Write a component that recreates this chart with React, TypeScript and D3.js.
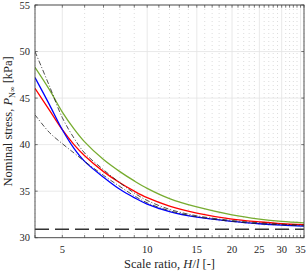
import * as d3 from 'd3'

// scale ratio H/l sample points
const ratio = [4, 4.5, 5, 5.5, 6, 7, 8, 9, 10, 12, 15, 20, 25, 30, 36]

// nominal stress series [kPa]
const greenVals = [48.3, 45.9, 43.5, 41.7, 40.3, 38.4, 37.1, 36.1, 35.3, 34.2, 33.3, 32.45, 32.0, 31.75, 31.6]
const redVals = [46.05, 43.7, 41.6, 40.0, 38.8, 37.1, 35.9, 35.0, 34.3, 33.4, 32.65, 32.0, 31.7, 31.5, 31.4]
const blueVals = [47.2, 44.3, 41.6, 39.6, 38.2, 36.5, 35.2, 34.3, 33.6, 32.8, 32.2, 31.75, 31.5, 31.35, 31.25]
const dashDotUpper = [50.0, 46.3, 42.9, 40.7, 39.1, 37.3, 35.9, 34.8, 34.0, 33.05, 32.35, 31.85, 31.6, 31.45, 31.35]
const dashDotLower = [43.2, 41.3, 40.1, 39.1, 38.2, 36.7, 35.5, 34.5, 33.75, 32.9, 32.25, 31.75, 31.5, 31.38, 31.28]
const asymptote = 30.9

const xTicks = [5, 10, 15, 20, 25, 30, 35]
const yTicks = [30, 35, 40, 45, 50, 55]

const width = 307
const height = 273
const margin = { top: 5, right: 3, bottom: 35.3, left: 35 }
const serif = '"Liberation Serif", "DejaVu Serif", serif'

export default function App() {
  const x = d3.scaleLog().domain([4, 36]).range([margin.left, width - margin.right])
  const y = d3.scaleLinear().domain([30, 55]).range([height - margin.bottom, margin.top])
  const x0 = x.range()[0], x1 = x.range()[1]
  const y0 = y.range()[0], y1 = y.range()[1]

  const minorTicks = d3.range(4, 37).filter(v => !xTicks.includes(v))

  const line = d3.line<number>()
    .x((_, i) => x(ratio[i]))
    .y(d => y(d))
    .curve(d3.curveCatmullRom.alpha(0.5))

  const tl = 2.7

  return (
    <svg width={width} height={height} style={{ position: 'absolute', left: 0, top: 0, background: '#fff' }}>
      <defs>
        <clipPath id="plot">
          <rect x={x0} y={y1} width={x1 - x0} height={y0 - y1} />
        </clipPath>
      </defs>
      {/* minor grid */}
      {minorTicks.map(v => (
        <line key={'mg' + v} x1={x(v)} x2={x(v)} y1={y1} y2={y0}
          stroke="#c4c4c4" strokeWidth={0.6} strokeDasharray="1 3" />
      ))}
      {/* major grid */}
      {xTicks.map(v => (
        <line key={'gx' + v} x1={x(v)} x2={x(v)} y1={y1} y2={y0} stroke="#e3e3e3" strokeWidth={0.8} />
      ))}
      {yTicks.map(v => (
        <line key={'gy' + v} x1={x0} x2={x1} y1={y(v)} y2={y(v)} stroke="#e3e3e3" strokeWidth={0.8} />
      ))}

      <g clipPath="url(#plot)" fill="none">
        <path d={line(greenVals) || ''} stroke="#77AC30" strokeWidth={1.3} />
        <path d={line(redVals) || ''} stroke="#FF0000" strokeWidth={1.3} />
        <path d={line(blueVals) || ''} stroke="#0000FF" strokeWidth={1.3} />
        <path d={line(dashDotUpper) || ''} stroke="#222" strokeWidth={0.8} strokeDasharray="5 2 1 2" />
        <path d={line(dashDotLower) || ''} stroke="#222" strokeWidth={0.8} strokeDasharray="5 2 1 2" />
        <line x1={x0} x2={x1} y1={y(asymptote)} y2={y(asymptote)} stroke="#333" strokeWidth={1.4} strokeDasharray="14 6" />
      </g>

      {/* box */}
      <rect x={x0} y={y1} width={x1 - x0} height={y0 - y1} fill="none" stroke="#404040" strokeWidth={0.9} />

      {/* x ticks */}
      {d3.range(4, 37).map(v => (
        <g key={'xt' + v} stroke="#404040" strokeWidth={0.7}>
          <line x1={x(v)} x2={x(v)} y1={y0} y2={y0 - tl} />
          <line x1={x(v)} x2={x(v)} y1={y1} y2={y1 + tl} />
        </g>
      ))}
      {/* y ticks */}
      {yTicks.map(v => (
        <g key={'yt' + v} stroke="#404040" strokeWidth={0.7}>
          <line x1={x0} x2={x0 + tl} y1={y(v)} y2={y(v)} />
          <line x1={x1} x2={x1 - tl} y1={y(v)} y2={y(v)} />
        </g>
      ))}

      <g fontFamily={serif} fontSize={10.5} fill="#262626">
        {xTicks.map(v => (
          <text key={'xl' + v} x={x(v)} y={y0 + 15.5} textAnchor="middle">{v}</text>
        ))}
        {yTicks.map(v => (
          <text key={'yl' + v} x={x0 - 5} y={y(v) + 3.7} textAnchor="end">{v}</text>
        ))}
      </g>

      <text x={(x0 + x1) / 2} y={268} textAnchor="middle" fontFamily={serif} fontSize={12.5} fill="#262626">
        Scale ratio, <tspan fontStyle="italic">H</tspan>/<tspan fontStyle="italic">l</tspan> [-]
      </text>
      <text transform={`translate(12, ${(y0 + y1) / 2}) rotate(-90)`} textAnchor="middle"
        fontFamily={serif} fontSize={12.5} fill="#262626">
        Nominal stress, <tspan fontStyle="italic">P</tspan>
        <tspan fontSize={8} dy={2.8}>N∞</tspan>
        <tspan dy={-2.8}> [kPa]</tspan>
      </text>
    </svg>
  )
}
